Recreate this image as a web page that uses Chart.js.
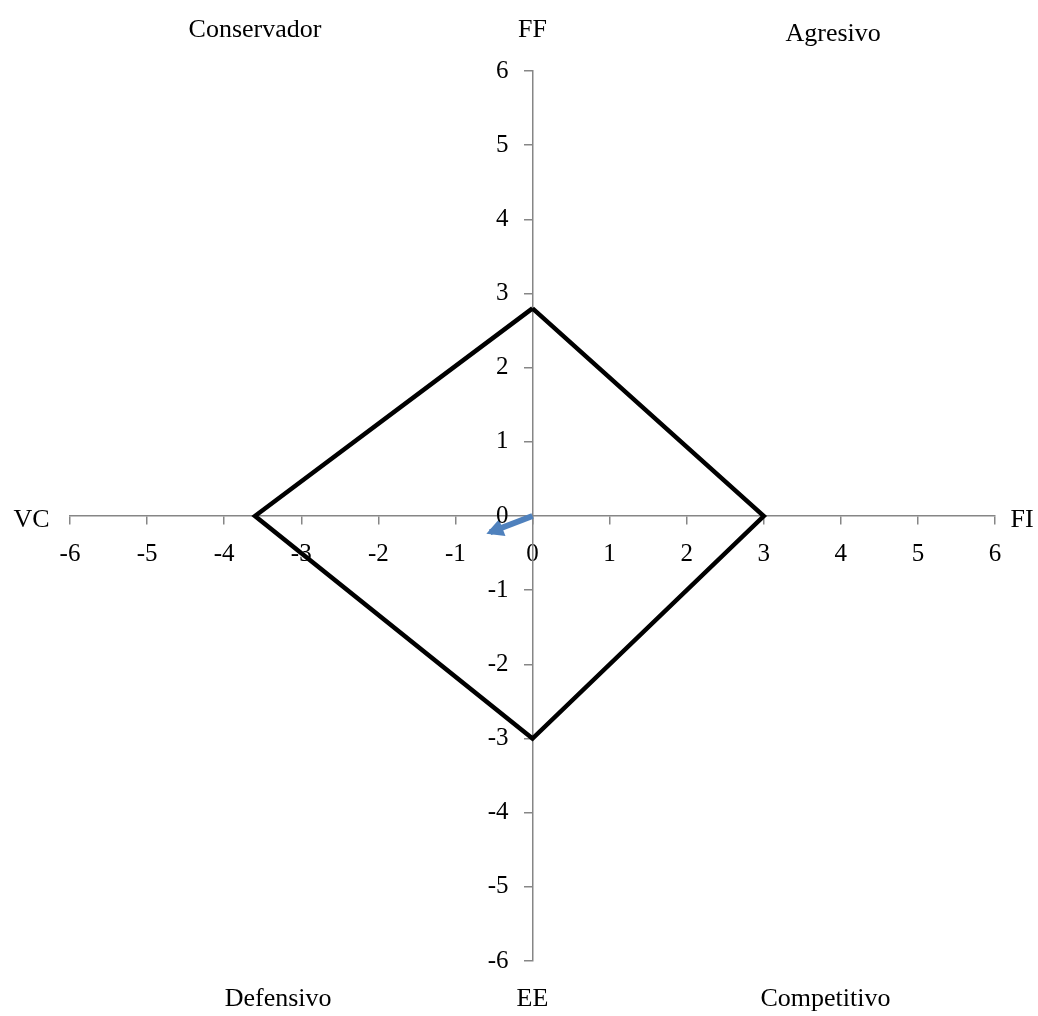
<!DOCTYPE html>
<html>
<head>
<meta charset="utf-8">
<script src="https://cdn.jsdelivr.net/npm/chart.js@4"></script>
<style>
    html, body { margin: 0; padding: 0; background: #ffffff; }
    #wrap { width: 1038px; height: 1016px; }
</style>
</head>
<body>
<div id="wrap"><canvas id="space-chart"></canvas></div>
<script>
// Data
const diamondX = [0, 3, 0, -3.6, 0];
const diamondY = [2.8, 0, -3, 0, 2.8];
const vectorX = [0, -0.55];
const vectorY = [0, -0.22];
const tickValues = [-6, -5, -4, -3, -2, -1, 0, 1, 2, 3, 4, 5, 6];
const quadrantLabels = ['Conservador', 'FF', 'Agresivo', 'VC', 'FI', 'Defensivo', 'EE', 'Competitivo'];

// Colors / fonts
const axisColor = '#868686';
const arrowColor = '#4f81bd';
const serif = '"Liberation Serif", "Times New Roman", serif';

// Where the quadrant labels sit (in axis units)
const labelSpots = [
    [-3.6, 6.55], [0, 6.55], [3.9, 6.5],
    [-6.5, -0.05], [6.35, -0.05],
    [-3.3, -6.52], [0, -6.52], [3.8, -6.52]
];

function toPoints(xs, ys) {
    return xs.map((x, i) => ({ x: x, y: ys[i] }));
}

// Draw quadrant labels
const labelsPlugin = {
    id: 'quadrantLabels',
    afterDraw(chart) {
        const ctx = chart.ctx;
        const xs = chart.scales.x;
        const ys = chart.scales.y;
        ctx.save();
        ctx.font = '26px ' + serif;
        ctx.fillStyle = '#000000';
        ctx.textAlign = 'center';
        ctx.textBaseline = 'middle';
        quadrantLabels.forEach((text, i) => {
            const spot = labelSpots[i];
            ctx.fillText(text, xs.getPixelForValue(spot[0]), ys.getPixelForValue(spot[1]));
        });
        ctx.restore();
    }
};

// Y tick labels, left of the centred y axis
const yLabelsPlugin = {
    id: 'yTickLabels',
    afterDraw(chart) {
        const ctx = chart.ctx;
        const ys = chart.scales.y;
        const axisX = chart.scales.x.getPixelForValue(0);
        ctx.save();
        ctx.font = '25px ' + serif;
        ctx.fillStyle = '#000000';
        ctx.textAlign = 'right';
        ctx.textBaseline = 'middle';
        ys.ticks.forEach(t => {
            ctx.fillText(String(t.value), axisX - 24, ys.getPixelForValue(t.value));
        });
        ctx.restore();
    }
};

// Arrow head on the vector dataset
const arrowPlugin = {
    id: 'arrowHead',
    afterDatasetsDraw(chart) {
        const meta = chart.getDatasetMeta(1);
        const pts = meta.data;
        if (pts.length < 2) return;
        const a = pts[pts.length - 2];
        const b = pts[pts.length - 1];
        const ang = Math.atan2(b.y - a.y, b.x - a.x);
        const len = 17, half = 9;
        const ctx = chart.ctx;
        ctx.save();
        ctx.fillStyle = arrowColor;
        ctx.translate(b.x, b.y);
        ctx.rotate(ang);
        ctx.beginPath();
        ctx.moveTo(4, 0);
        ctx.lineTo(-len + 4, -half);
        ctx.lineTo(-len + 4, half);
        ctx.closePath();
        ctx.fill();
        ctx.restore();
    }
};

const axisCommon = {
    type: 'linear',
    min: -6,
    max: 6,
    afterBuildTicks: scale => {
        scale.ticks = tickValues.map(v => ({ value: v }));
    },
    grid: {
        display: true,
        drawOnChartArea: false,
        drawTicks: true,
        tickLength: 8,
        color: axisColor,
        lineWidth: 1.5
    },
    border: { display: true, color: axisColor, width: 1.5 },
    ticks: {
        color: '#000000',
        font: { family: serif, size: 25 },
        autoSkip: false,
        maxRotation: 0
    }
};

new Chart(document.getElementById('space-chart').getContext('2d'), {
    type: 'scatter',
    data: {
        datasets: [
            {
                data: toPoints(diamondX, diamondY),
                showLine: true,
                borderColor: '#000000',
                borderWidth: 4.5,
                pointRadius: 0,
                fill: false,
                tension: 0
            },
            {
                data: toPoints(vectorX, vectorY),
                showLine: true,
                borderColor: arrowColor,
                borderWidth: 6,
                pointRadius: 0,
                fill: false
            }
        ]
    },
    options: {
        responsive: true,
        maintainAspectRatio: false,
        animation: false,
        layout: { padding: { left: 70, right: 43, top: 71, bottom: 55 } },
        plugins: {
            legend: { display: false },
            tooltip: { enabled: false }
        },
        scales: {
            x: Object.assign({}, axisCommon, {
                position: { y: 0 },
                ticks: Object.assign({}, axisCommon.ticks, { padding: 15 })
            }),
            y: Object.assign({}, axisCommon, {
                position: { x: 0 },
                ticks: Object.assign({}, axisCommon.ticks, { display: false })
            })
        }
    },
    plugins: [labelsPlugin, yLabelsPlugin, arrowPlugin]
});
</script>
</body>
</html>
